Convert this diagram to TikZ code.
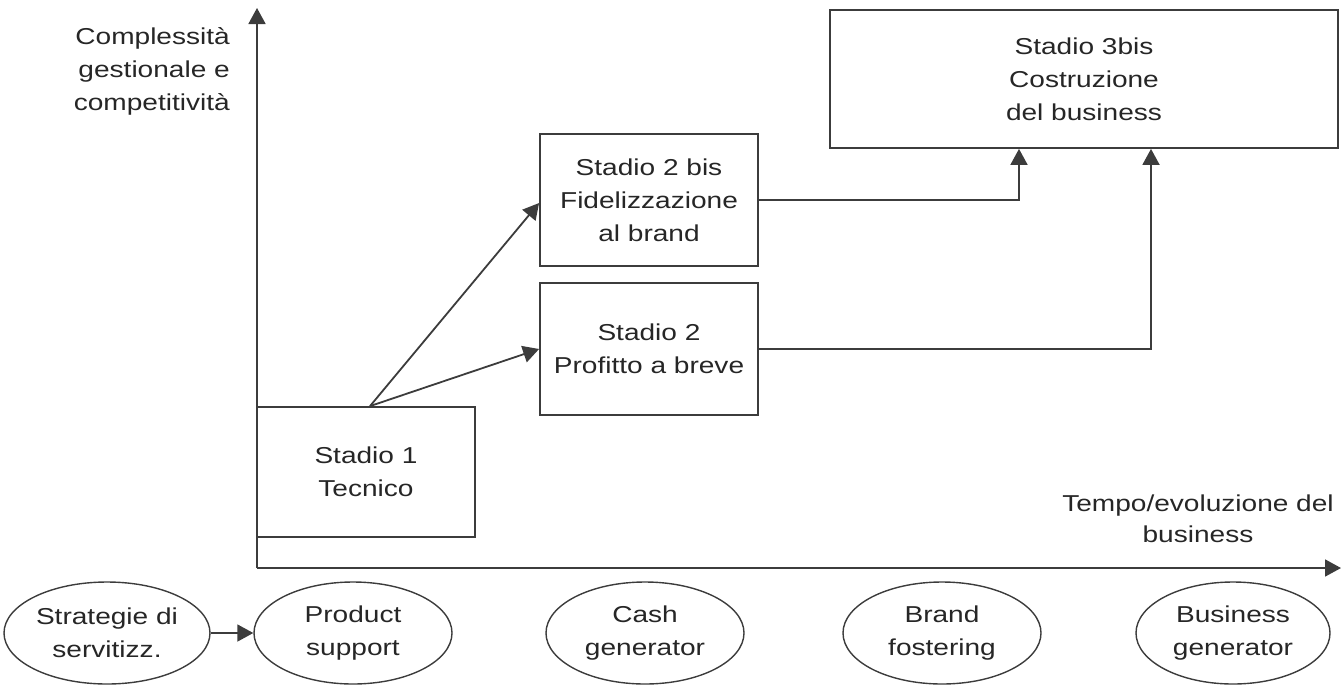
\documentclass[tikz,border=0pt]{standalone}
\usepackage{fontspec}
\setmainfont{Liberation Sans}[FakeStretch=1.22]
\usetikzlibrary{arrows.meta,shapes.geometric,positioning}
\definecolor{tratto}{HTML}{3C3C3C}
\definecolor{scritta}{HTML}{262626}
\tikzset{
  testo/.style={font=\fontsize{23}{33}\selectfont, text=scritta, align=center},
  stadio/.style={testo, draw=tratto, line width=1.8pt, inner sep=0pt},
  fase/.style={testo, ellipse, draw=tratto, line width=1.4pt, inner sep=0pt,
    minimum width=198pt, minimum height=102pt},
  freccia/.style={draw=tratto, line width=1.8pt, -{Triangle[length=16pt,width=17pt]}}
}
\begin{document}
\begin{tikzpicture}[x=1pt,y=-1pt]
    \useasboundingbox (0,0) rectangle (1341,691);
    % assi
    \coordinate (O) at (257,568);
    \coordinate (ytop) at (257,8);
    \coordinate (xend) at (1341,568);
    \draw[freccia] (O) -- (ytop);
    \draw[freccia] (O) -- (xend);
    \node[testo, align=right, anchor=north east, inner sep=0pt] (ylab) at (230,27)
      {Complessità\\gestionale e\\competitività};
    \node[testo, anchor=north, inner sep=0pt, font=\fontsize{23}{31}\selectfont] (xlab) at (1198,495)
      {Tempo/evoluzione del\\business};
    % stadi
    \node[stadio, minimum width=218pt, minimum height=130pt] (s1) at (366,472) {Stadio 1\\Tecnico};
    \node[stadio, minimum width=218pt, minimum height=132pt] (s2b) at (649,200) {Stadio 2 bis\\Fidelizzazione\\al brand};
    \node[stadio, minimum width=218pt, minimum height=132pt] (s2) at (649,349) {Stadio 2\\Profitto a breve};
    \node[stadio, minimum width=508pt, minimum height=138pt] (s3) at (1084,79) {Stadio 3bis\\Costruzione\\del business};
    \draw[freccia] ([xshift=4pt]s1.north) -- ([yshift=-3pt]s2b.west);
    \draw[freccia] ([xshift=4pt]s1.north) -- (s2.west);
    \draw[freccia] (s2b.east) -| ([xshift=-65pt]s3.south);
    \draw[freccia] (s2.east) -| ([xshift=67pt]s3.south);
    % fasi
    \node[fase, minimum width=206pt] (f0) at (107,633) {Strategie di\\servitizz.};
    \node[fase] (f1) at (353,633) {Product\\support};
    \node[fase] (f2) at (645,633) {Cash\\generator};
    \node[fase] (f3) at (942,633) {Brand\\fostering};
    \node[fase, minimum width=194pt] (f4) at (1233,633) {Business\\generator};
    \draw[freccia] (f0) -- (f1);
\end{tikzpicture}
\end{document}
